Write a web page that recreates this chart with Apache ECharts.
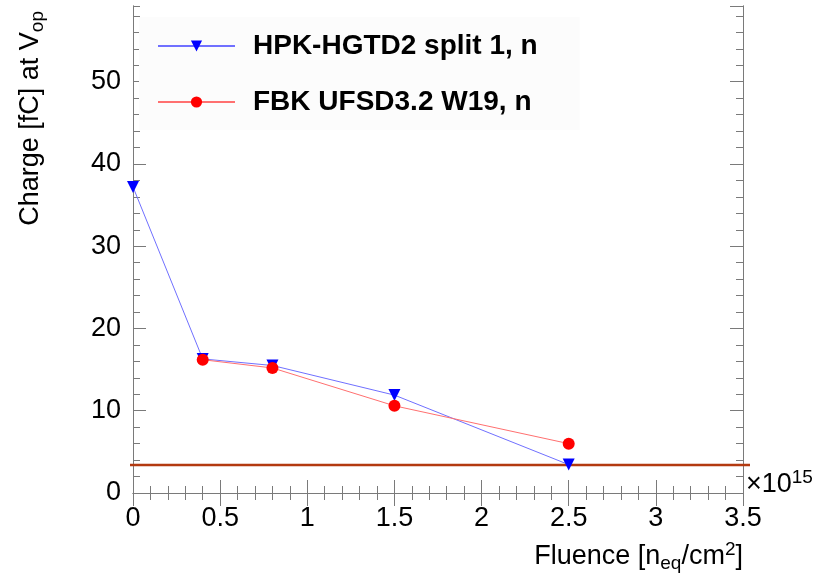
<!DOCTYPE html>
<html>
<head>
<meta charset="utf-8">
<script src="https://cdn.jsdelivr.net/npm/echarts@6/dist/echarts.min.js"></script>
<style>
  html, body { margin: 0; padding: 0; background: #ffffff; }
  #chart { width: 817px; height: 585px; }
</style>
</head>
<body>
<div id="chart"></div>
<script>
// Collected charge at the operating voltage versus fluence (units of 1e15 neq/cm^2)
const hpkName = 'HPK-HGTD2 split 1, n';
const hpkFluence = [0, 0.4, 0.8, 1.5, 2.5];
const hpkCharge = [37.2, 16.3, 15.5, 11.9, 3.45];

const fbkName = 'FBK UFSD3.2 W19, n';
const fbkFluence = [0.4, 0.8, 1.5, 2.5];
const fbkCharge = [16.2, 15.2, 10.6, 6.0];

// Horizontal reference level (fC)
const referenceCharge = 3.4;

// Axis ranges
const xRange = [0, 3.5];
const yRange = [0, 59.2];

const pairs = (xs, ys) => xs.map((x, i) => [x, ys[i]]);

const FONT = '"Liberation Sans", Arial, Helvetica, sans-serif';
const AXIS_GRAY = '#7a7a7a';
const LABEL_SIZE = 27;

const chart = echarts.init(document.getElementById('chart'), null, { renderer: 'canvas' });

const plainY = (position, interval, len, labels) => ({
  type: 'value', gridIndex: 0, position: position,
  min: yRange[0], max: yRange[1], interval: interval,
  axisLine: { show: true, lineStyle: { color: AXIS_GRAY, width: 1 } },
  axisTick: { show: true, inside: true, length: len, lineStyle: { color: AXIS_GRAY, width: 1 } },
  axisLabel: labels ? {
    show: true, fontFamily: FONT, fontSize: LABEL_SIZE, color: '#000', margin: 12,
    showMaxLabel: false
  } : { show: false },
  splitLine: { show: false }
});

const plainX = (position, labels) => ({
  type: 'value', gridIndex: 0, position: position,
  min: xRange[0], max: xRange[1], interval: 0.5,
  axisLine: { show: true, lineStyle: { color: AXIS_GRAY, width: 1 } },
  axisTick: { show: true, inside: true, length: 13, lineStyle: { color: AXIS_GRAY, width: 1 } },
  minorTick: { show: true, splitNumber: 5, length: 7, lineStyle: { color: AXIS_GRAY, width: 1 } },
  axisLabel: labels ? {
    show: true, fontFamily: FONT, fontSize: LABEL_SIZE, color: '#000', margin: 12
  } : { show: false },
  splitLine: { show: false },
  minorSplitLine: { show: false }
});

const option = {
  animation: false,
  backgroundColor: '#ffffff',
  grid: [
    { left: 133, right: 74, top: 6, bottom: 92, containLabel: false },
    // wider strip used only for the reference line, which runs a little past the frame
    { left: 130, right: 67, top: 6, bottom: 92, containLabel: false }
  ],
  xAxis: [
    plainX('bottom', true),
    plainX('top', false),
    { type: 'value', gridIndex: 1, min: 0, max: 1, show: false }
  ],
  yAxis: [
    plainY('left', 10, 13, true),
    plainY('left', 2, 7, false),
    plainY('right', 10, 13, false),
    plainY('right', 2, 7, false),
    { type: 'value', gridIndex: 1, min: yRange[0], max: yRange[1], show: false }
  ],
  legend: {
    orient: 'vertical',
    left: 139, top: 17,
    padding: [13, 42, 12, 18],
    backgroundColor: '#fcfcfc',
    itemWidth: 77, itemHeight: 14, itemGap: 24,
    textStyle: {
      fontFamily: FONT, fontSize: 28, fontWeight: 'bold', color: '#000',
      lineHeight: 32, padding: [0, 0, 0, 13]
    },
    data: [hpkName, fbkName]
  },
  series: [
    {
      name: 'reference',
      type: 'line',
      xAxisIndex: 2, yAxisIndex: 4,
      data: [[0, referenceCharge], [1, referenceCharge]],
      symbol: 'none',
      lineStyle: { color: '#b33a10', width: 2.5 },
      silent: true, z: 1
    },
    {
      name: hpkName,
      type: 'line',
      xAxisIndex: 0, yAxisIndex: 0,
      data: pairs(hpkFluence, hpkCharge),
      symbol: 'triangle', symbolRotate: 180, symbolSize: 12,
      itemStyle: { color: '#0000ff' },
      lineStyle: { color: '#7070ff', width: 1 },
      z: 3
    },
    {
      name: fbkName,
      type: 'line',
      xAxisIndex: 0, yAxisIndex: 0,
      data: pairs(fbkFluence, fbkCharge),
      symbol: 'circle', symbolSize: 12,
      itemStyle: { color: '#ff0000' },
      lineStyle: { color: '#ff7070', width: 1 },
      z: 4
    }
  ],
  graphic: [
    {
      type: 'text', left: 746, top: 468, silent: true,
      style: {
        text: '{b|×10}{s|15}',
        rich: {
          b: { fontFamily: FONT, fontSize: 27, fill: '#000', lineHeight: 30 },
          s: { fontFamily: FONT, fontSize: 19, fill: '#000', lineHeight: 30, padding: [0, 0, 14, 0] }
        }
      }
    },
    {
      type: 'text', right: 74, top: 540, silent: true,
      style: {
        text: '{b|Fluence [n}{sub|eq}{b|/cm}{sup|2}{b|]}',
        rich: {
          b: { fontFamily: FONT, fontSize: 27, fill: '#000', lineHeight: 34 },
          sub: { fontFamily: FONT, fontSize: 19, fill: '#000', lineHeight: 34, padding: [14, 0, 0, 0] },
          sup: { fontFamily: FONT, fontSize: 19, fill: '#000', lineHeight: 34, padding: [0, 0, 14, 0] }
        }
      }
    },
    {
      type: 'text', x: 31, y: 11, rotation: Math.PI / 2, silent: true,
      style: {
        text: '{b|Charge [fC] at V}{sub|op}',
        align: 'right', verticalAlign: 'middle',
        rich: {
          b: { fontFamily: FONT, fontSize: 27, fill: '#000', lineHeight: 34 },
          sub: { fontFamily: FONT, fontSize: 19, fill: '#000', lineHeight: 34, padding: [14, 0, 0, 0] }
        }
      }
    }
  ]
};

chart.setOption(option);
</script>
</body>
</html>
